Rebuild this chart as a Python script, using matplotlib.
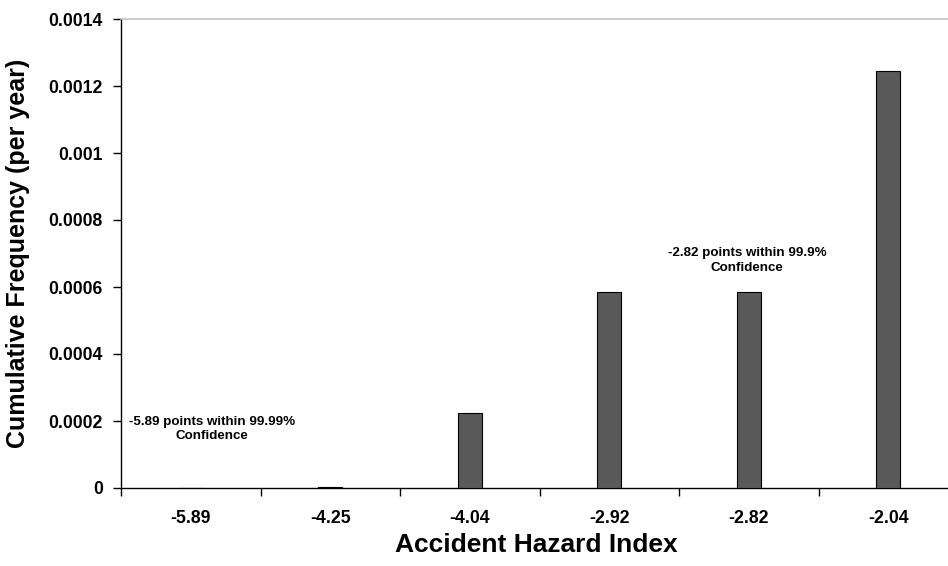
import matplotlib
matplotlib.use('Agg')
import matplotlib.pyplot as plt
import numpy as np

plt.rcParams['font.family'] = ['Liberation Sans', 'DejaVu Sans']
plt.rcParams['font.weight'] = 'bold'

# Accident hazard index categories and cumulative frequency (per year)
categories = ['-5.89', '-4.25', '-4.04', '-2.92', '-2.82', '-2.04']
frequency = [1e-6, 3e-6, 0.000224, 0.000585, 0.000585, 0.001245]
y_ticks = [0, 0.0002, 0.0004, 0.0006, 0.0008, 0.001, 0.0012, 0.0014]
y_tick_labels = ['0', '0.0002', '0.0004', '0.0006', '0.0008', '0.001', '0.0012', '0.0014']

fig = plt.figure(figsize=(9.48, 5.66), dpi=100)
ax = fig.add_axes([121 / 948, 78 / 566, 6 * 139.5 / 948, 469 / 566])

x = np.arange(len(categories))
ax.bar(x, frequency, width=0.17, color='#595959', edgecolor='black', linewidth=0.8, zorder=3)

ax.set_xlim(-0.5, len(categories) - 0.5)
ax.set_ylim(0, 0.0014)

# ticks on category boundaries, labels in the middle
ax.set_xticks(np.arange(-0.5, len(categories), 1.0))
ax.set_xticklabels([])
ax.set_xticks(x, minor=True)
ax.set_xticklabels(categories, minor=True, fontsize=12.7, fontweight='bold')
ax.tick_params(axis='x', which='major', direction='out', length=6, width=1)
ax.tick_params(axis='x', which='minor', length=0, pad=16)

ax.set_yticks(y_ticks)
ax.set_yticklabels(y_tick_labels, fontsize=12.7, fontweight='bold')
ax.tick_params(axis='y', direction='out', length=6, width=1, pad=7)

ax.spines['right'].set_visible(False)
ax.spines['top'].set_color('#c0c0c0')
ax.spines['top'].set_linewidth(1.2)
ax.spines['left'].set_linewidth(1)
ax.spines['bottom'].set_linewidth(1)

axw = 6 * 139.5
ax.set_xlabel('Accident Hazard Index', fontsize=19, fontweight='bold')
ax.xaxis.set_label_coords((536.5 - 121) / axw, -45 / 469)
ax.set_ylabel('Cumulative Frequency (per year)', fontsize=18, fontweight='bold')
ax.yaxis.set_label_coords(-91 / axw, 0.5)

ax.text(0.152, 0.000176, '-5.89 points within 99.99%\nConfidence', ha='center', va='center',
        fontsize=9.6, fontweight='bold', linespacing=1.25)
ax.text(3.99, 0.000679, '-2.82 points within 99.9%\nConfidence', ha='center', va='center',
        fontsize=9.6, fontweight='bold', linespacing=1.25)

fig.savefig('out.png', dpi=100)
